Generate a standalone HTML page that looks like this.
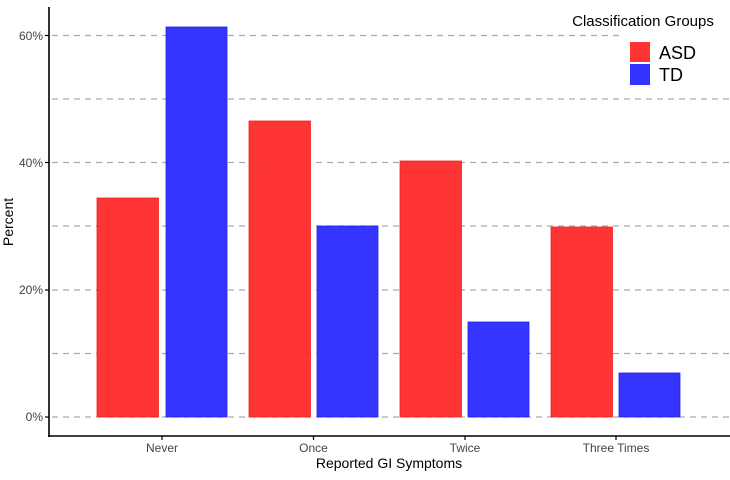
<!DOCTYPE html>
<html><head><style>body{margin:0;background:#fff}</style></head><body>
<svg width="730" height="475" xmlns="http://www.w3.org/2000/svg" font-family="Liberation Sans, Arial, sans-serif">
<rect width="730" height="475" fill="#fff"/>
<g stroke="#aaa" stroke-width="1.2" stroke-dasharray="6,5">
<line x1="52" x2="730" y1="35.5" y2="35.5"/>
<line x1="52" x2="730" y1="99" y2="99"/>
<line x1="52" x2="730" y1="162.5" y2="162.5"/>
<line x1="52" x2="730" y1="226" y2="226"/>
<line x1="52" x2="730" y1="290" y2="290"/>
<line x1="52" x2="730" y1="353.5" y2="353.5"/>
<line x1="52" x2="730" y1="417" y2="417"/>
</g>
<g fill="#ff2a2a" fill-opacity="0.95" stroke="#ee2222" stroke-width="0.8">
<rect x="97" y="198" width="61.5" height="219"/>
<rect x="249" y="121" width="61.5" height="296"/>
<rect x="400" y="161" width="61.5" height="256"/>
<rect x="551" y="227" width="61.5" height="190"/>
</g>
<g fill="#2a2aff" fill-opacity="0.95" stroke="#2222ee" stroke-width="0.8">
<rect x="166" y="27" width="61" height="390"/>
<rect x="317" y="226" width="61" height="191"/>
<rect x="468" y="322" width="61" height="95"/>
<rect x="619" y="373" width="61" height="44"/>
</g>
<rect x="622" y="0" width="108" height="92" fill="#fff"/>
<line x1="49" y1="7" x2="49" y2="437" stroke="#000" stroke-width="1.6"/>
<line x1="48" y1="436" x2="730" y2="436" stroke="#000" stroke-width="1.6"/>
<g stroke="#000" stroke-width="1.2">
<line x1="45" x2="49" y1="35.5" y2="35.5"/><line x1="45" x2="49" y1="162.5" y2="162.5"/>
<line x1="45" x2="49" y1="290" y2="290"/><line x1="45" x2="49" y1="417" y2="417"/>
<line x1="162" x2="162" y1="436" y2="440"/><line x1="313.5" x2="313.5" y1="436" y2="440"/>
<line x1="465" x2="465" y1="436" y2="440"/><line x1="616" x2="616" y1="436" y2="440"/>
</g>
<g font-size="12" fill="#444" text-anchor="end">
<text x="43" y="40">60%</text><text x="43" y="167">40%</text>
<text x="43" y="294">20%</text><text x="43" y="421">0%</text>
</g>
<g font-size="12" fill="#444" text-anchor="middle">
<text x="162" y="452">Never</text><text x="313.5" y="452">Once</text>
<text x="465" y="452">Twice</text><text x="616" y="452">Three Times</text>
</g>
<text x="389" y="468" font-size="14" text-anchor="middle" fill="#000">Reported GI Symptoms</text>
<text x="0" y="0" font-size="14" text-anchor="middle" transform="translate(13 222) rotate(-90)" fill="#000">Percent</text>
<text x="643" y="26" font-size="15" text-anchor="middle" fill="#000">Classification Groups</text>
<rect x="630" y="42" width="20" height="20" fill="#ff3333"/>
<rect x="630" y="64" width="20" height="21" fill="#3333ff"/>
<text x="659" y="59" font-size="18" fill="#000">ASD</text>
<text x="659" y="81" font-size="18" fill="#000">TD</text>
</svg>
</body></html>
